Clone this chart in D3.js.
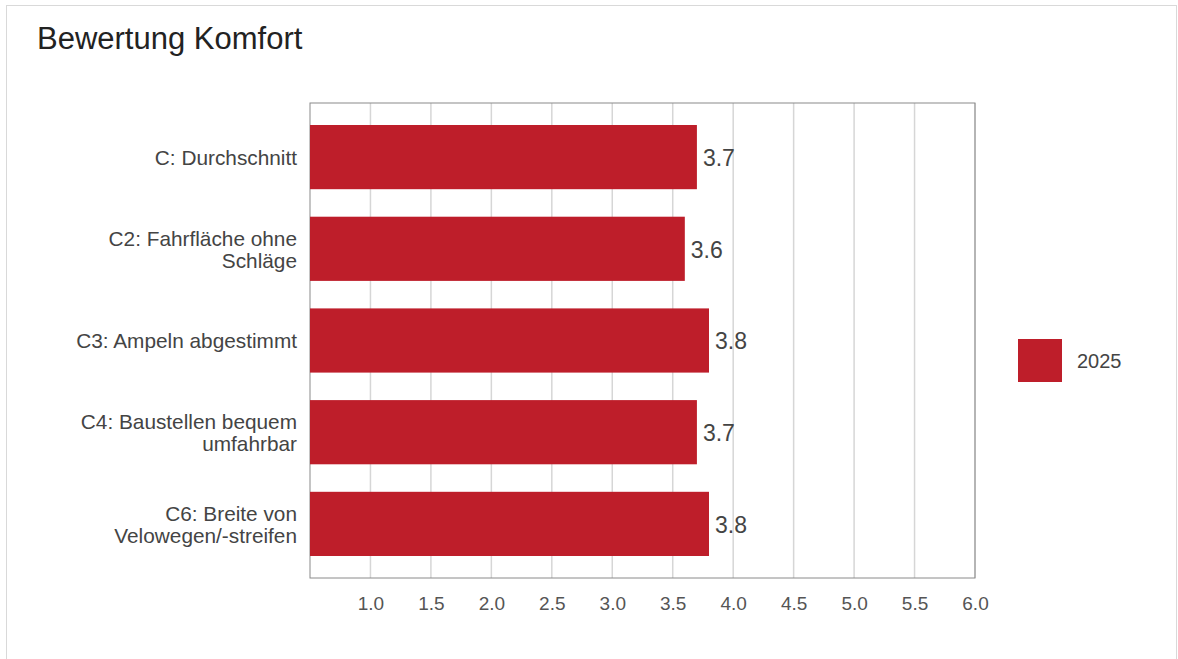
<!DOCTYPE html>
<html><head><meta charset="utf-8">
<script src="https://cdn.jsdelivr.net/npm/d3@7"></script>
<style>
body{margin:0;background:#fff;font-family:"Liberation Sans",Arial,sans-serif;}
</style></head>
<body><svg id="c" width="1178" height="659"></svg>
<script>
const categories = [["C: Durchschnitt"],["C2: Fahrfläche ohne","Schläge"],["C3: Ampeln abgestimmt"],["C4: Baustellen bequem","umfahrbar"],["C6: Breite von","Velowegen/-streifen"]];
const values2025 = [3.7, 3.6, 3.8, 3.7, 3.8];
const tickValues = [1.0,1.5,2.0,2.5,3.0,3.5,4.0,4.5,5.0,5.5,6.0];
const seriesName = "2025";
const title = "Bewertung Komfort";

const svg = d3.select("#c");
svg.append("rect").attr("x",6.5).attr("y",5.5).attr("width",1170).attr("height",670).attr("fill","#fff").attr("stroke","#d9d9d9");
svg.append("text").attr("x",37).attr("y",49).attr("font-size",31).attr("fill","#222").text(title);

const L=310,R=975,T=103,B=578;
const x = d3.scaleLinear().domain([0.5,6.0]).range([L,R]);
const y = d3.scaleBand().domain(d3.range(categories.length)).range([T,B]).paddingInner(0.3).paddingOuter(0.24);

// gridlines
svg.append("g").selectAll("line").data(tickValues).join("line")
  .attr("x1",d=>x(d)).attr("x2",d=>x(d)).attr("y1",T).attr("y2",B)
  .attr("stroke","#d6d6d6").attr("stroke-width",1.5);

// frame
svg.append("rect").attr("x",L).attr("y",T).attr("width",R-L).attr("height",B-T).attr("fill","none").attr("stroke","#8a8a8a").attr("stroke-width",1);

// bars
svg.append("g").selectAll("rect").data(values2025).join("rect")
  .attr("x",x(0.5)).attr("y",(d,i)=>y(i)).attr("width",d=>x(d)-x(0.5)).attr("height",y.bandwidth())
  .attr("fill","#BE1E2A");

// value labels
svg.append("g").selectAll("text").data(values2025).join("text")
  .attr("x",d=>x(d)+6).attr("y",(d,i)=>y(i)+y.bandwidth()/2).attr("dy","0.38em")
  .attr("font-size",23).attr("fill","#444").text(d=>d.toFixed(1));

// x axis tick labels
const xa = d3.axisBottom(x).tickValues(tickValues).tickFormat(d3.format(".1f")).tickSize(0).tickPadding(19);
const gx = svg.append("g").attr("transform",`translate(0,${B})`).call(xa);
gx.select(".domain").remove();
gx.selectAll("text").attr("font-size",19).attr("fill","#555").attr("font-family","Liberation Sans, Arial, sans-serif");

// category labels
const lab = svg.append("g").selectAll("text").data(categories).join("text")
  .attr("text-anchor","end").attr("font-size",20.8).attr("fill","#444")
  .attr("transform",(d,i)=>`translate(297,${y(i)+y.bandwidth()/2})`);
lab.each(function(lines){
  const n=lines.length, lh=22;
  d3.select(this).selectAll("tspan").data(lines).join("tspan")
    .attr("x",0).attr("y",(l,j)=>(j-(n-1)/2)*lh).attr("dy","0.38em").text(l=>l);
});

// legend
svg.append("rect").attr("x",1018).attr("y",339).attr("width",44).attr("height",43).attr("fill","#BE1E2A");
svg.append("text").attr("x",1077).attr("y",361).attr("dy","0.35em").attr("font-size",20).attr("fill","#444").text(seriesName);
</script></body></html>
